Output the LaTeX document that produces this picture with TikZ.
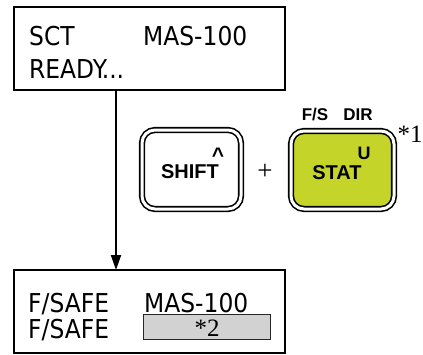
\documentclass[tikz,border=0pt]{standalone}
\usepackage{fontspec}
\setmainfont{DejaVu Sans Condensed}
\newfontfamily\keyfont{Liberation Sans}
\newfontfamily\serifnote{Liberation Serif}
\usetikzlibrary{arrows.meta}
\definecolor{keygreen}{RGB}{196,212,40}
\definecolor{fieldgray}{RGB}{210,210,210}
\tikzset{
  x=1pt, y=-1pt,
  lcd/.style={draw, line width=2pt, inner sep=0pt},
  lcdtext/.style={anchor=base west, inner sep=0pt, font=\fontsize{26}{26}\selectfont},
  keybox/.style={draw, double=white, double distance=3pt, line width=1.6pt, rounded corners=13pt, inner sep=0pt},
  keylabel/.style={inner sep=0pt, font=\keyfont\bfseries\fontsize{20}{20}\selectfont},
  toplabel/.style={inner sep=0pt, font=\keyfont\bfseries\fontsize{17}{17}\selectfont},
  note/.style={inner sep=0pt, font=\serifnote\fontsize{25}{25}\selectfont},
}
\begin{document}
\begin{tikzpicture}
\useasboundingbox (0,0) rectangle (423,354);
% top display
\node[lcd, minimum width=271pt, minimum height=83pt] (top) at (149.5,48.5) {};
\node[lcdtext] (t1) at (29,45) {SCT};
\node[lcdtext] (t2) at (143,45) {MAS-100};
\node[lcdtext] (t3) at (29,78) {READY...};
% bottom display
\node[lcd, minimum width=271pt, minimum height=83pt] (bot) at (149.5,311.5) {};
\node[lcdtext] (b1) at (28,312) {F/SAFE};
\node[lcdtext] (b2) at (144,312) {MAS-100};
\node[lcdtext] (b3) at (28,338) {F/SAFE};
\node[draw=black!85, line width=0.8pt, fill=fieldgray, minimum width=127pt, minimum height=25pt, inner sep=0pt] (field) at (206.5,326.5) {};
\node[note] (n2) at (207,328) {*2};
% arrow
\coordinate (astart) at (116,90);
\coordinate (aend) at (116,270);
\draw[line width=2pt, -{Triangle[length=15pt, width=10pt]}] (astart) -- (aend);
% keys
\node[keybox, minimum width=99pt, minimum height=79pt] (shift) at (191.5,169.5) {};
\node[keylabel] (shiftlbl) at (190,172) {SHIFT};
\node[keylabel, font=\keyfont\bfseries\fontsize{21}{21}\selectfont] (caret) at (218,155) {\textasciicircum};
\node[inner sep=0pt, font=\serifnote\fontsize{27}{27}\selectfont] (plus) at (265,172) {+};
\node[keybox, fill=keygreen, minimum width=103pt, minimum height=78pt] (stat) at (342.5,170) {};
\node[keylabel] (statlbl) at (337,173) {STAT};
\node[keylabel, font=\keyfont\bfseries\fontsize{18}{18}\selectfont] (u) at (364,153) {U};
\node[toplabel] (fs) at (315,115) {F/S};
\node[toplabel] (dir) at (358,115) {DIR};
\node[note] (n1) at (410,134) {*1};
\end{tikzpicture}
\end{document}
